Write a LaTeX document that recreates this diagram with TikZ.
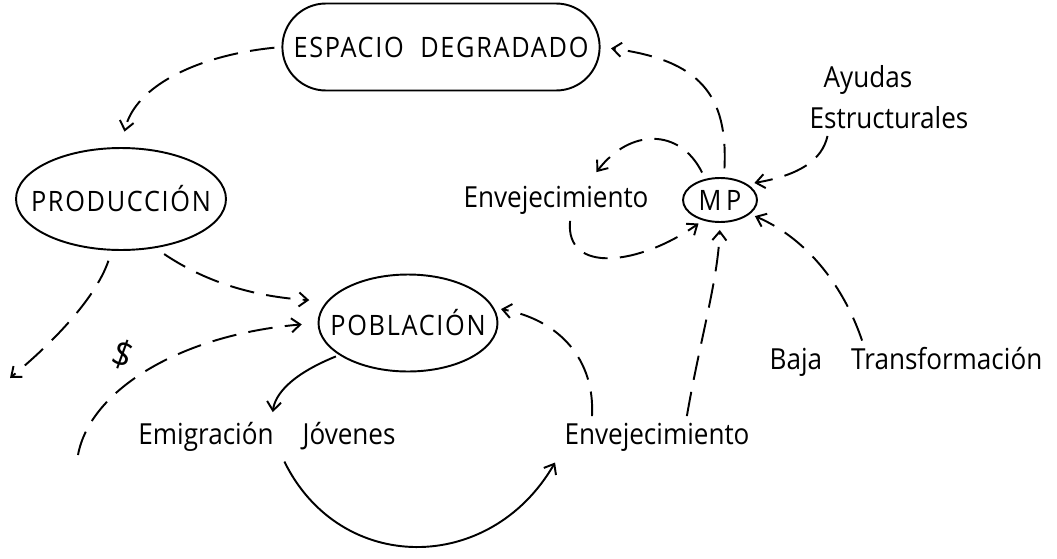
\documentclass[tikz,border=0pt]{standalone}
\usepackage{fontspec}
\setmainfont{Open Sans}
\newfontfamily\rotfont{Open Sans}[FakeStretch=0.9]
\newfontfamily\mayfont{Open Sans}[FakeStretch=0.9,LetterSpace=6]
\usetikzlibrary{arrows.meta,shapes.geometric,shapes.misc}
\tikzset{
  caja/.style={ellipse, draw, inner sep=0pt},
  rotulo/.style={font=\rotfont\fontsize{16.5}{19}\selectfont},
  mayus/.style={font=\mayfont\fontsize{16}{19}\selectfont},
  dep/.style={dash pattern=on 14pt off 7pt},
}
\begin{document}
\begin{tikzpicture}[x=0.02cm, y=-0.02cm, >={Straight Barb[length=5pt,width=8pt]}, line width=1.1pt]
\useasboundingbox (0,0) rectangle (1057,558);

\node[rounded rectangle, draw, minimum width=6.58cm, minimum height=1.74cm, mayus] (esp) at (441,47) {ESPACIO\ \ DEGRADADO};
\node[caja, minimum width=4.2cm, minimum height=2.04cm, label={[mayus]center:PRODUCCIÓN}] (prod) at (121,199) {};
\node[caja, minimum width=3.58cm, minimum height=1.94cm, label={[mayus]center:POBLACIÓN}] (pob) at (408,323) {};
\node[caja, minimum width=1.48cm, minimum height=0.88cm, label={[mayus]center:M\,P}] (mp) at (720,200) {};

\node[rotulo] (env1) at (556,200) {Envejecimiento};
\node[rotulo] (ayu) at (868,80) {Ayudas};
\node[rotulo] (estr) at (889,118) {Estructurales};
\node[rotulo] (baja) at (906,362) {Baja\quad Transformación};
\node[rotulo] (emig) at (267,437) {Emigración\quad Jóvenes};
\node[rotulo] (env2) at (657,437) {Envejecimiento};
\node[rotulo, font=\rotfont\fontsize{21}{24}\selectfont, rotate=-20] (pesos) at (123,355) {\$};

\coordinate (fuera) at (10,378);
\coordinate (origen) at (78,455);

\draw[dep,->,shorten <=4pt,shorten >=9pt] (esp.west) .. controls (200,55) and (135,85) .. (prod.north);
\draw[dep,->,shorten <=5pt,shorten >=6pt] (mp.80) .. controls (728,95) and (700,60) .. (esp.east);
\draw[dep,->,shorten >=4pt] ([xshift=-35pt]estr.south) .. controls (822,160) and (800,175) .. (mp.30);
\draw[dep,->,shorten >=3pt] ([xshift=-25pt]baja.north) .. controls (845,290) and (810,240) .. (mp.-25);
\draw[dep,->,shorten >=4pt] ([xshift=17pt]env2.north) .. controls (700,340) and (718,280) .. (mp.south);
\draw[dep,->,shorten <=4pt,shorten >=5pt] (mp.125) .. controls (680,128) and (630,128) .. ([xshift=20pt]env1.north);
\draw[dep,->,shorten >=3pt] ([xshift=8pt]env1.south) .. controls (565,275) and (640,265) .. (mp.-130);
\draw[dep,->,shorten <=6pt,shorten >=10pt] (prod.-55) .. controls (210,285) and (260,297) .. (pob.165);
\draw[dep,->,shorten <=6pt] (prod.-100) .. controls (95,300) and (50,345) .. (fuera);
\draw[dep,->,shorten >=9pt] (origen) .. controls (90,390) and (180,335) .. (pob.180);
\draw[dep,->,shorten >=4pt] ([xshift=-37pt]env2.north) .. controls (595,360) and (560,320) .. (pob.10);

\draw[->,shorten <=2pt,shorten >=2pt] (pob.205) .. controls (290,375) and (275,395) .. ([xshift=3pt]emig.north);
\draw[->,shorten <=2pt,shorten >=3pt] ([xshift=9pt]emig.south) .. controls (340,575) and (490,575) .. (env2.south west);

\end{tikzpicture}
\end{document}
